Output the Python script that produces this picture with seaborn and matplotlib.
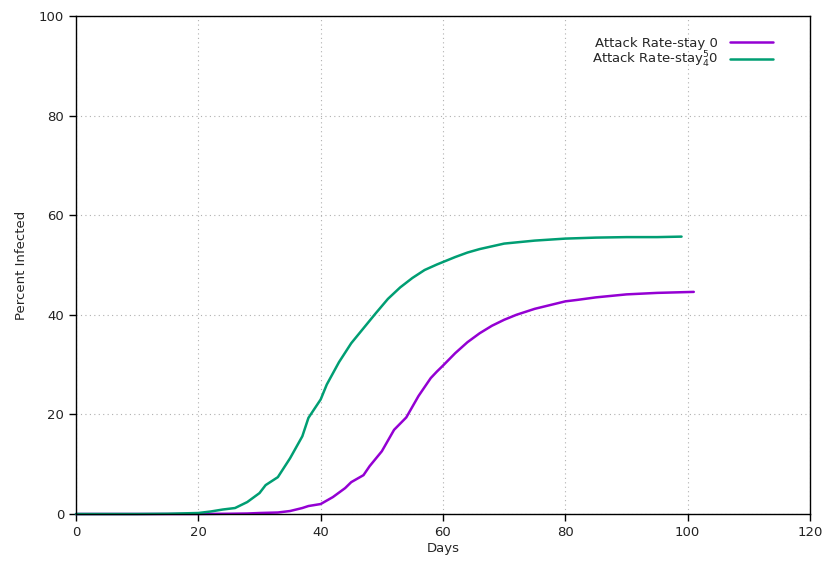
import matplotlib
matplotlib.use("Agg")
import matplotlib.pyplot as plt
import seaborn as sns
import pandas as pd

days_a = [0, 10, 20, 25, 28, 30, 33, 35, 37, 38, 40, 42, 44, 45, 47, 48, 50, 52, 54,
          56, 58, 59, 60, 62, 64, 66, 68, 70, 72, 75, 78, 80, 82, 85, 90, 95, 101]
stay_a = [0.0, 0.0, 0.0, 0.05, 0.1, 0.2, 0.3, 0.6, 1.2, 1.6, 2.0, 3.4, 5.2, 6.4, 7.8, 9.6,
          12.6, 16.9, 19.4, 23.7, 27.3, 28.6, 29.8, 32.3, 34.5, 36.3, 37.8, 39.0, 40.0, 41.2,
          42.1, 42.7, 43.0, 43.5, 44.1, 44.4, 44.6]

days_b = [0, 10, 15, 20, 22, 24, 26, 28, 30, 31, 33, 35, 37, 38, 40, 41, 43, 45, 47, 49,
          51, 53, 55, 57, 59, 60, 62, 64, 66, 70, 75, 80, 85, 90, 95, 99]
stay_b = [0.0, 0.0, 0.05, 0.2, 0.5, 0.9, 1.2, 2.4, 4.2, 5.8, 7.4, 11.2, 15.6, 19.3, 23.0,
          26.0, 30.5, 34.3, 37.3, 40.3, 43.2, 45.5, 47.4, 49.0, 50.1, 50.6, 51.6, 52.5, 53.2,
          54.3, 54.9, 55.3, 55.5, 55.6, 55.6, 55.7]

label_a = "Attack Rate-stay 0"
label_b = "Attack Rate-stay$^5_4$0"

x_ticks = [0, 20, 40, 60, 80, 100, 120]
y_ticks = [0, 20, 40, 60, 80, 100]

df = pd.concat([
    pd.DataFrame({"Days": days_a, "Percent Infected": stay_a, "series": label_a}),
    pd.DataFrame({"Days": days_b, "Percent Infected": stay_b, "series": label_b}),
])

sns.set_style("white")
plt.rcParams["font.family"] = ["DejaVu Sans"]
plt.rcParams["font.size"] = 9.5

fig = plt.figure(figsize=(8.28, 5.61), dpi=100)
ax = fig.add_axes([76 / 828, 47 / 561, 734 / 828, 498 / 561])

sns.lineplot(data=df, x="Days", y="Percent Infected", hue="series",
             palette={label_a: "#9400D3", label_b: "#009E73"},
             linewidth=1.8, ax=ax, clip_on=False)

ax.set_xlim(0, 120)
ax.set_ylim(0, 100)
ax.set_xticks(x_ticks)
ax.set_yticks(y_ticks)
ax.grid(True, color="#b0b0b0", linestyle=(0, (1, 3)), linewidth=0.8)
for s in ax.spines.values():
    s.set_color("black")
    s.set_linewidth(1.0)
ax.tick_params(axis="both", direction="out", length=5, width=1, color="black",
               labelsize=9.5, labelcolor="#222222", bottom=True, left=True)
ax.set_xlabel("Days", fontsize=9.5, labelpad=2)
ax.set_ylabel("Percent Infected", fontsize=9.5, labelpad=8)

leg = ax.legend(loc="upper right", bbox_to_anchor=(0.966, 0.982), frameon=False,
                markerfirst=False, handlelength=3.3, handletextpad=0.9,
                labelspacing=0.02, fontsize=9.5)
for h in leg.get_lines():
    h.set_linewidth(1.8)

fig.savefig("out.png", dpi=100, facecolor="white")
